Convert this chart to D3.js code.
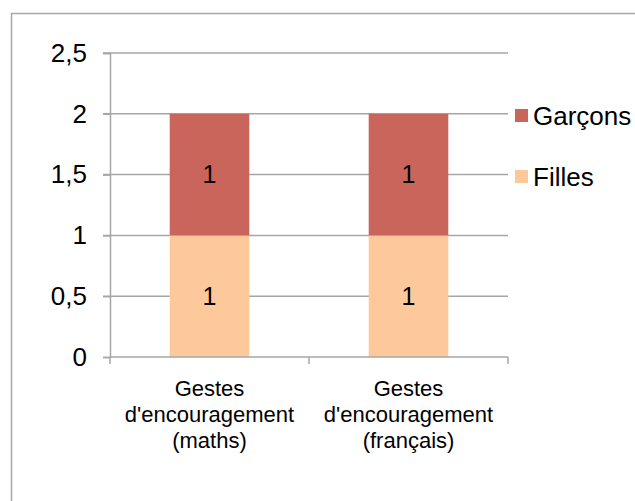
<!DOCTYPE html>
<html>
<head>
<meta charset="utf-8">
<script src="https://cdn.jsdelivr.net/npm/d3@7"></script>
<style>
  body { margin: 0; background: #fff; }
  svg { display: block; font-family: "Liberation Sans", Arial, sans-serif; }
</style>
</head>
<body>
<svg id="chart" width="635" height="501"></svg>
<script>
const categories = [
  ["Gestes", "d'encouragement", "(maths)"],
  ["Gestes", "d'encouragement", "(français)"]
];
const seriesNames = ["Filles", "Garçons"];
const filles = [1, 1];
const garcons = [1, 1];
const yTicks = [0, 0.5, 1, 1.5, 2, 2.5];

const colors = { "Filles": "#fdc99b", "Garçons": "#c9655b" };
const gridColor = "#a6a6a6";

const svg = d3.select('#chart');

// outer frame
svg.append('rect')
   .attr('x', 11.5).attr('y', 13.5)
   .attr('width', 700).attr('height', 600)
   .attr('fill', 'none')
   .attr('stroke', '#a6a6a6')
   .attr('stroke-width', 1.5);

const x0 = 110, x1 = 508, yTop = 53, yBot = 357;

const y = d3.scaleLinear().domain([0, 2.5]).range([yBot, yTop]);
const x = d3.scaleBand()
            .domain(d3.range(categories.length))
            .range([x0, x1])
            .padding(0);

const table = categories.map(function(c, i) {
    return { i: i, "Filles": filles[i], "Garçons": garcons[i] };
});
const stacked = d3.stack().keys(seriesNames)(table);

// gridlines
svg.append('g')
   .selectAll('line')
   .data(yTicks.filter(function(d) { return d > 0; }))
   .join('line')
   .attr('x1', x0 - 7).attr('x2', x1)
   .attr('y1', function(d) { return y(d); })
   .attr('y2', function(d) { return y(d); })
   .attr('stroke', gridColor)
   .attr('stroke-width', 1.5);

// bars
const barW = x.bandwidth() * 0.4;
svg.append('g')
   .selectAll('g')
   .data(stacked)
   .join('g')
   .attr('fill', function(d) { return colors[d.key]; })
   .selectAll('rect')
   .data(function(d) { return d; })
   .join('rect')
   .attr('x', function(d) { return x(d.data.i) + (x.bandwidth() - barW) / 2; })
   .attr('width', barW)
   .attr('y', function(d) { return y(d[1]); })
   .attr('height', function(d) { return y(d[0]) - y(d[1]); });

// value labels
svg.append('g')
   .selectAll('g')
   .data(stacked)
   .join('g')
   .selectAll('text')
   .data(function(d) { return d; })
   .join('text')
   .attr('x', function(d) { return x(d.data.i) + x.bandwidth() / 2; })
   .attr('y', function(d) { return y((d[0] + d[1]) / 2); })
   .attr('dy', '0.35em')
   .attr('text-anchor', 'middle')
   .attr('font-size', 25)
   .attr('fill', '#000')
   .text(function(d) { return d[1] - d[0]; });

// y axis
const fmt = function(d) { return String(d).replace('.', ','); };
const yAxis = svg.append('g')
   .attr('transform', 'translate(' + x0 + ',0)')
   .call(d3.axisLeft(y).tickValues(yTicks).tickSize(7).tickPadding(16).tickFormat(fmt));
yAxis.select('.domain').attr('stroke', gridColor).attr('stroke-width', 1.5);
yAxis.selectAll('.tick line').attr('stroke', gridColor).attr('stroke-width', 1.5);
yAxis.selectAll('.tick text')
     .attr('font-size', 26)
     .attr('font-family', '"Liberation Sans", Arial, sans-serif')
     .attr('fill', '#000');

// x axis
svg.append('line')
   .attr('x1', x0).attr('x2', x1)
   .attr('y1', yBot).attr('y2', yBot)
   .attr('stroke', gridColor).attr('stroke-width', 1.5);
svg.append('g')
   .selectAll('line')
   .data(d3.range(categories.length + 1))
   .join('line')
   .attr('x1', function(d) { return x0 + d * x.step(); })
   .attr('x2', function(d) { return x0 + d * x.step(); })
   .attr('y1', yBot).attr('y2', yBot + 7)
   .attr('stroke', gridColor).attr('stroke-width', 1.5);

const catText = svg.append('g')
   .selectAll('text')
   .data(categories)
   .join('text')
   .attr('text-anchor', 'middle')
   .attr('font-size', 22)
   .attr('fill', '#000');
catText.selectAll('tspan')
   .data(function(d, i) { return d.map(function(s) { return { s: s, i: i }; }); })
   .join('tspan')
   .attr('x', function(d) { return x(d.i) + x.bandwidth() / 2; })
   .attr('y', function(d, j) { return 396 + j * 26; })
   .text(function(d) { return d.s; });

// legend
const legend = svg.append('g')
   .selectAll('g')
   .data(["Garçons", "Filles"])
   .join('g')
   .attr('transform', function(d, i) { return 'translate(515,' + (109 + i * 61) + ')'; });
legend.append('rect')
   .attr('width', 13).attr('height', 13)
   .attr('fill', function(d) { return colors[d]; });
legend.append('text')
   .attr('x', 18).attr('y', 6.5).attr('dy', '0.35em')
   .attr('font-size', 26)
   .attr('fill', '#000')
   .text(function(d) { return d; });
</script>
</body>
</html>
